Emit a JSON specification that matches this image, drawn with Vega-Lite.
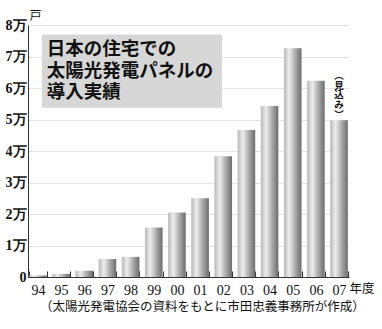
{
  "$schema": "https://vega.github.io/schema/vega-lite/v6.json",
  "width": 321,
  "height": 252,
  "autosize": {"type": "none"},
  "padding": {"left": 28, "top": 25, "right": 33, "bottom": 52},
  "background": "white",
  "config": {"view": {"stroke": null}, "font": "Noto Sans CJK JP"},
  "title": {
    "text": "（太陽光発電協会の資料をもとに市田忠義事務所が作成）",
    "orient": "bottom",
    "anchor": "start",
    "frame": "group",
    "dx": 12,
    "offset": 4,
    "fontSize": 12.5,
    "fontWeight": "normal",
    "font": "Noto Sans CJK JP",
    "color": "#111"
  },
  "data": {
    "values": [
      {"year": "94", "count": 500},
      {"year": "95", "count": 1000},
      {"year": "96", "count": 2000},
      {"year": "97", "count": 5700},
      {"year": "98", "count": 6400},
      {"year": "99", "count": 15700},
      {"year": "00", "count": 20500},
      {"year": "01", "count": 25000},
      {"year": "02", "count": 38300},
      {"year": "03", "count": 46700},
      {"year": "04", "count": 54300},
      {"year": "05", "count": 72600},
      {"year": "06", "count": 62300},
      {"year": "07", "count": 49800}
    ]
  },
  "layer": [
    {
      "encoding": {
        "x": {
          "field": "year",
          "type": "ordinal",
          "sort": null,
          "scale": {"paddingInner": 0.24, "paddingOuter": 0.05},
          "axis": {
            "title": "年度",
            "titleX": 321,
            "titleY": 5,
            "titleAlign": "left",
            "titleAnchor": null,
            "titleBaseline": "top",
            "titleFontSize": 12.5,
            "titleFontWeight": "normal",
            "titleFont": "Noto Sans CJK JP",
            "titleColor": "#111",
            "labelAngle": 0,
            "labelFont": "Liberation Serif",
            "labelFontSize": 14,
            "labelColor": "#111",
            "labelPadding": 12,
            "ticks": true,
            "tickBand": "extent",
            "tickSize": -6,
            "tickColor": "#333",
            "domainColor": "#333",
            "grid": false
          }
        },
        "y": {
          "field": "count",
          "type": "quantitative",
          "scale": {"domain": [0, 80000], "nice": false},
          "axis": {
            "values": [0, 10000, 20000, 30000, 40000, 50000, 60000, 70000, 80000],
            "labelOverlap": false,
            "labelExpr": "datum.value == 0 ? '0' : (datum.value / 10000) + '万'",
            "labelFont": "Liberation Serif",
            "labelFontSize": 14,
            "labelFontWeight": 600,
            "labelColor": "#111",
            "labelPadding": 2,
            "ticks": false,
            "domainColor": "#333",
            "gridColor": "#e4e4e4",
            "title": "戸",
            "titleAngle": 0,
            "titleX": 1,
            "titleY": -3,
            "titleAlign": "left",
            "titleBaseline": "bottom",
            "titleFontSize": 12,
            "titleFontWeight": "normal",
            "titleColor": "#111"
          }
        }
      },
      "layer": [
        {
          "mark": {
            "type": "bar",
            "color": {
              "gradient": "linear",
              "x1": 0, "x2": 1, "y1": 0, "y2": 0,
              "stops": [
                {"offset": 0, "color": "#b8b8b8"},
                {"offset": 0.3, "color": "#ededed"},
                {"offset": 0.65, "color": "#a9a9a9"},
                {"offset": 1, "color": "#6c6c6c"}
              ]
            }
          }
        },
        {
          "transform": [{"filter": "datum.year == '07'"}],
          "mark": {
            "type": "text",
            "text": ["︵", "見", "込", "み", "︶"],
            "baseline": "top",
            "dy": -49,
            "fontSize": 9.5,
            "lineHeight": 9.6,
            "fontWeight": "bold",
            "color": "#111"
          }
        }
      ]
    },
    {
      "data": {"values": [{}]},
      "layer": [
        {
          "mark": {"type": "rect", "color": "#d7d7d7"},
          "encoding": {
            "x": {"datum": 0.61, "type": "quantitative", "scale": {"domain": [0, 14], "nice": false, "zero": false}, "axis": null},
            "x2": {"datum": 8.46},
            "y": {"datum": 77000, "type": "quantitative", "axis": null},
            "y2": {"datum": 53700}
          }
        },
        {
          "mark": {
            "type": "text",
            "text": ["日本の住宅での", "太陽光発電パネルの", "導入実績"],
            "align": "left",
            "baseline": "top",
            "fontSize": 18.5,
            "lineHeight": 21.5,
            "fontWeight": "bold",
            "color": "#111"
          },
          "encoding": {
            "x": {"datum": 0.82, "type": "quantitative", "scale": {"domain": [0, 14], "nice": false, "zero": false}, "axis": null},
            "y": {"datum": 75200, "type": "quantitative", "axis": null}
          }
        }
      ]
    }
  ],
  "resolve": {"scale": {"x": "independent"}, "axis": {"y": "independent"}}
}
